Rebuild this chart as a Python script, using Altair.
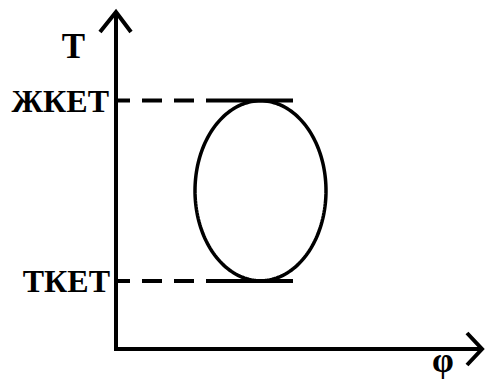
import altair as alt
import pandas as pd
import numpy as np

# Temperature levels (Y units) and their labels
level_names = ["ЖКЕТ", "ТКЕТ"]
level_T = [248.5, 68.0]
dash_end = 110.0      # where the dashed guide turns solid
solid_end = 177.0     # end of the tangent segment

# Ellipse (phase region) parameters
ell_cx, ell_cy = 144.5, 158.25
ell_a, ell_b = 65.5, 90.0

# Axis polyline and arrowheads
axis_seg = ["axis", "axis", "axis", "up", "up", "up", "right", "right", "right"]
axis_x = [0, 0, 366, -16, 0, 15, 351, 366, 351]
axis_y = [337, 0, 0, 317, 337, 317, 16, 0, -16]

# Text labels
lab_text = ["T", "φ"]
lab_x = [-42.5, 327]
lab_y = [291, -23]
lev_lab_x = [-7, -6]
lev_lab_y = [237, 57]

XD = [-108, 370]
YD = [-30, 341]
W, H = 478, 371

xs = alt.Scale(domain=XD, nice=False, zero=False)
ys = alt.Scale(domain=YD, nice=False, zero=False)

axes_df = pd.DataFrame({"seg": axis_seg, "x": axis_x, "y": axis_y,
                        "i": list(range(len(axis_x)))})
t = np.linspace(0, 2 * np.pi, 181)
ell_df = pd.DataFrame({"x": ell_cx + ell_a * np.cos(t),
                       "y": ell_cy + ell_b * np.sin(t),
                       "i": np.arange(len(t))})
lev_df = pd.DataFrame({"name": level_names, "T": level_T,
                       "x0": 0.0, "x1": dash_end, "x2": solid_end,
                       "lx": lev_lab_x, "ly": lev_lab_y})
lab_df = pd.DataFrame({"text": lab_text, "x": lab_x, "y": lab_y})

base_x = lambda f: alt.X(f, type="quantitative", scale=xs, axis=None)
base_y = lambda f: alt.Y(f, type="quantitative", scale=ys, axis=None)

axes = alt.Chart(axes_df).mark_line(color="black", strokeWidth=4,
                                    strokeJoin="miter", strokeMiterLimit=10).encode(
    x=base_x("x"), y=base_y("y"), detail="seg:N", order="i:Q")

ell = alt.Chart(ell_df).mark_line(color="black", strokeWidth=3.5).encode(
    x=base_x("x"), y=base_y("y"), order="i:Q")

dashed = alt.Chart(lev_df).mark_rule(color="black", strokeWidth=4,
                                     strokeDash=[20, 12], strokeDashOffset=6).encode(
    x=base_x("x0"), x2="x1:Q", y=base_y("T"))
solid = alt.Chart(lev_df).mark_rule(color="black", strokeWidth=4).encode(
    x=base_x("x1"), x2="x2:Q", y=base_y("T"))

lev_text = alt.Chart(lev_df).mark_text(font="Liberation Serif", fontWeight="bold",
                                       fontSize=32, align="right",
                                       baseline="alphabetic", color="black").encode(
    x=base_x("lx"), y=base_y("ly"), text="name:N")
ax_text = alt.Chart(lab_df).mark_text(font="Liberation Serif", fontWeight="bold",
                                      fontSize=35, align="center",
                                      baseline="alphabetic", color="black").encode(
    x=base_x("x"), y=base_y("y"), text="text:N")

chart = alt.layer(dashed, solid, ell, axes, lev_text, ax_text).properties(
    width=W, height=H, padding=0, autosize=alt.AutoSizeParams(type="none"),
    background="white"
).configure_view(stroke=None)

chart.save("out.html", embed_options={"renderer": "svg", "actions": False})
